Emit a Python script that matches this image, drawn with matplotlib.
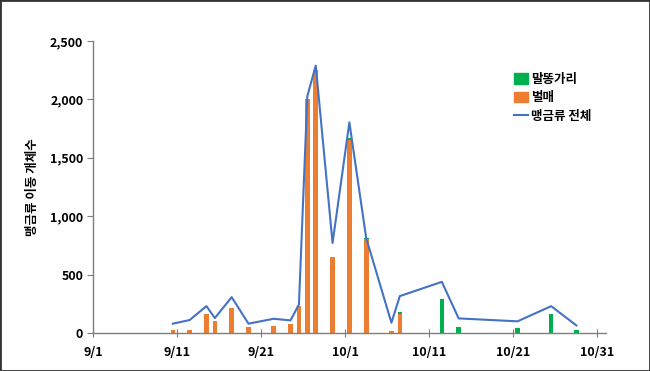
import matplotlib.pyplot as plt
from matplotlib.patches import Rectangle, Patch
from matplotlib.lines import Line2D
from matplotlib.ticker import FuncFormatter

plt.rcParams['font.family'] = ['Noto Sans CJK KR', 'DejaVu Sans']

# day index: 0 = 9/1 (each date occupies one slot)
bar_days = [9, 11, 13, 14, 16, 18, 21, 23, 24, 25, 26, 28, 30, 32, 35, 36,
            41, 43, 50, 54, 57]
orange = [26, 28, 165, 105, 216, 51, 60, 74, 230, 2000, 2255, 651, 1650, 802, 17, 165,
          3, 0, 0, 0, 0]
green = [0, 0, 0, 0, 0, 0, 0, 0, 0, 0, 0, 0, 20, 15, 0, 15,
         290, 51, 43, 159, 23]

total_days = [9, 11, 13, 14, 16, 18, 21, 23, 24, 25, 26, 28, 30, 32, 35, 36,
              41, 43, 50, 54, 57]
total = [80, 111, 230, 128, 307, 80, 122, 108, 245, 2028, 2290, 771, 1803, 813, 88, 316,
         438, 125, 100, 230, 65]

tick_days = [0, 10, 20, 30, 40, 50, 60]
tick_labels = ['9/1', '9/11', '9/21', '10/1', '10/11', '10/21', '10/31']

c_green = '#00B050'
c_orange = '#ED7D31'
c_blue = '#4472C4'


def main():
    fig = plt.figure(figsize=(6.5, 3.71), dpi=100)
    ax = fig.add_axes([0.143, 0.1024, 0.789, 0.7871])

    x = [d + 0.5 for d in bar_days]
    ax.bar(x, orange, width=0.55, color=c_orange, zorder=2)
    ax.bar(x, green, width=0.55, bottom=orange, color=c_green, zorder=2)
    ax.plot([d + 0.5 for d in total_days], total, color=c_blue, lw=1.5, zorder=3)

    ax.set_xlim(0, 61)
    ax.set_ylim(0, 2500)
    ax.set_yticks([0, 500, 1000, 1500, 2000, 2500])
    ax.yaxis.set_major_formatter(FuncFormatter(lambda v, p: f'{int(v):,}'))
    ax.set_xticks(tick_days)
    ax.set_xticklabels(tick_labels)

    for s in ['top', 'right']:
        ax.spines[s].set_visible(False)
    for s in ['left', 'bottom']:
        ax.spines[s].set_color('#7f7f7f')
        ax.spines[s].set_linewidth(1.0)

    ax.tick_params(axis='y', direction='out', length=4, color='#7f7f7f', labelsize=9, pad=3)
    ax.tick_params(axis='x', direction='inout', length=6, color='#7f7f7f', labelsize=9, pad=6)
    for lab in ax.get_xticklabels() + ax.get_yticklabels():
        lab.set_fontweight('bold')

    ax.set_ylabel('맹금류 이동 개체수', fontsize=9, fontweight='bold', labelpad=8)

    handles = [Patch(color=c_green), Patch(color=c_orange), Line2D([0], [0], color=c_blue, lw=1.5)]
    leg = ax.legend(handles, ['말똥가리', '벌매', '맹금류 전체'], loc='upper left',
                    bbox_to_anchor=(0.8, 0.93), frameon=False, fontsize=9,
                    handlelength=1.1, handleheight=0.9, handletextpad=0.2, labelspacing=0.45)
    for t in leg.get_texts():
        t.set_fontweight('bold')

    fig.patches.append(Rectangle((0, 0), 1, 1, transform=fig.transFigure, fill=False,
                                 edgecolor='#333333', lw=2.0))

    fig.savefig('out.png', dpi=100)


if __name__ == '__main__':
    main()
